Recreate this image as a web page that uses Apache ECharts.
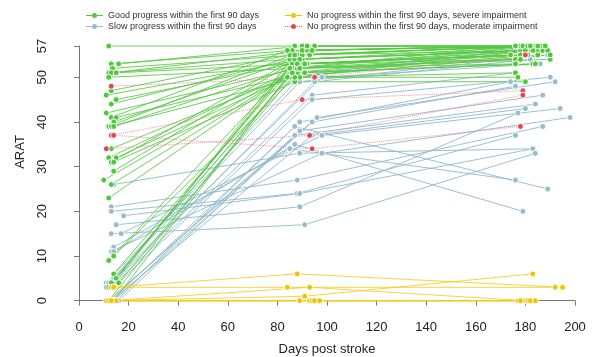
<!DOCTYPE html>
<html><head><meta charset="utf-8">
<script src="https://cdn.jsdelivr.net/npm/echarts@6/dist/echarts.min.js"></script>
<style>html,body{margin:0;padding:0;background:#fff}#c{width:594px;height:357px}</style>
</head><body><div id="c"></div>
<script>
// ---- data (days post stroke, ARAT) per patient: three assessments ----
const seriesNames = ['Good progress within the first 90 days','Slow progress within the first 90 days','No progress within the first 90 days, severe impairment','No progress within the first 90 days, moderate impairment'];

const goodDays = [[12,87,180],[13,86,181],[16,90,183],[13.5,88,185],[12,85,178],[13,92,186],[15,89,179],[12,87,176],[13,85,188],[11,90,182],[15,86,174],[13,93,184],[11,88,190],[13,84,178],[15,91,183],[14,87,187],[12,95,180],[13,89,176],[14,86,181],[13,88,185],[12,92,189],[15,85,177],[13,90,182],[14,87,180],[14,94,179],[10,88,186],[13,86,184],[12,91,178],[14,87,183],[12,85,176],[14,89,188],[13,86,180],[12,90,185],[14,88,178],[15,92,181],[12,84,190],[13,87,182],[16,89,176]];
const goodArat = [[57,57,57],[53,56,57],[53,57,57],[52,55,56],[51,54,56],[51,56,57],[51,53,55],[50,52,54],[47,55,57],[46,54,56],[45,53,55],[44,55,57],[42,52,54],[41,56,57],[41,51,53],[40,54,56],[39,57,57],[39,50,51],[39,52,55],[34,51,55],[32,53,56],[32,50,50],[31,55,57],[31,49,49],[29,56,57],[27,52,57],[26,51,53],[23,53,55],[10,50,56],[9,52,57],[6,54,57],[4,51,56],[3,56,57],[0,53,54],[5,57,57],[0,50,55],[3,55,57],[4,52,53]];

const slowDays = [[14,89,183],[13,88,187],[13,88,176],[18,89,183],[15,89,177],[13,91,184],[17,98,194],[14,85,176],[13,98,198],[14,87,179],[14,85,178],[11,89,186],[12,89,189],[14,95,182],[11,98,186],[13,94,176],[14,94,190],[12,96,192],[13,89,174],[14,94,176],[15,87,189],[16,89,187],[12,87,184],[13,94,180]];
const slowArat = [[26,33,34],[21,27,39],[20,24,37],[19,24,34],[17,21,42],[15,17,33],[15,37,43],[12,34,27],[11,33,41],[11,35,20],[5,50,57],[4,50,57],[4,49,55],[4,49,54],[3,50,53],[3,46,51],[3,45,50],[0,41,49],[0,40,49],[0,40,48],[0,39,25],[0,38,46],[0,37,44],[0,37,43]];

const severeDays = [[13,88,195],[14,84,192],[12,93,180],[11,91,183],[13,89,177],[14,93,181],[12,94,182],[15,95,178],[13,97,184]];
const severeArat = [[3,6,3],[3,3,3],[0,3,0],[0,1,6],[0,0,0],[0,0,0],[0,0,0],[0,0,0],[0,0,0]];

const moderateDays = [[13,95,180],[13,90,179],[14,94,178],[11,93,179]];
const moderateArat = [[48,50,55],[37,45,47],[37,34,39],[34,37,46]];

const xTicks = [0,20,40,60,80,100,120,140,160,180,200];
const yTicks = [0,10,20,30,40,50,57];

// ---- styles ----
const groups = [
  {name: seriesNames[1], days: slowDays, arat: slowArat, color: '#97bccb', line: 'rgba(145,185,202,0.9)', type: 'solid'},
  {name: seriesNames[0], days: goodDays, arat: goodArat, color: '#4fc83c', line: 'rgba(85,200,65,0.85)', type: 'solid'},
  {name: seriesNames[3], days: moderateDays, arat: moderateArat, color: '#e2455c', line: 'rgba(235,120,140,0.8)', type: 'dotted'},
  {name: seriesNames[2], days: severeDays, arat: severeArat, color: '#f3c300', line: 'rgba(245,200,20,0.8)', type: 'solid'}
];
const styleOf = {};
groups.forEach(g => { styleOf[g.name] = g; });

const series = [];
groups.forEach(g => {
  g.days.forEach((d, i) => {
    series.push({
      type: 'line', name: g.name,
      data: d.map((x, j) => [x, g.arat[i][j]]),
      symbol: 'circle', symbolSize: 6, showSymbol: true,
      itemStyle: {color: g.color, borderColor: '#fff', borderWidth: 1},
      lineStyle: {color: g.line, width: 1, type: g.type},
      clip: false, silent: true, animation: false
    });
  });
});

const solidIcon = 'path://M0,2h6.2v1h-6.2z M10.8,2h6.2v1h-6.2z M6,2.5a2.5,2.5 0 1,0 5,0a2.5,2.5 0 1,0 -5,0z';
const dottedIcon = 'path://M0,2h1v1h-1z M2.2,2h1v1h-1z M4.4,2h1v1h-1z M11.6,2h1v1h-1z M13.8,2h1v1h-1z M16,2h1v1h-1z M6,2.5a2.5,2.5 0 1,0 5,0a2.5,2.5 0 1,0 -5,0z';
function legendItem(name) {
  const g = styleOf[name];
  return {name: name, icon: g.type === 'dotted' ? dottedIcon : solidIcon, itemStyle: {color: g.color, borderWidth: 0}};
}
const legendText = {fontFamily: 'Liberation Sans, Arial, sans-serif', fontSize: 9, color: '#333'};

const chart = echarts.init(document.getElementById('c'), null, {renderer: 'canvas'});
const axisFont = {fontFamily: 'Liberation Sans, Arial, sans-serif', fontSize: 13, color: '#222'};
chart.setOption({
  animation: false,
  backgroundColor: '#fff',
  grid: {left: 79, right: 19, top: 46, bottom: 56.3, containLabel: false, outerBoundsMode: 'none'},
  legend: [
    {data: [legendItem(seriesNames[0]), legendItem(seriesNames[1])], orient: 'vertical', left: 81, top: 6, itemWidth: 17, itemHeight: 5, itemGap: 2,
     textStyle: legendText, selectedMode: false},
    {data: [legendItem(seriesNames[2]), legendItem(seriesNames[3])], orient: 'vertical', left: 280, top: 6, itemWidth: 17, itemHeight: 5, itemGap: 2,
     textStyle: legendText, selectedMode: false}
  ],
  xAxis: {
    type: 'value', min: 0, max: 200, interval: 20, offset: 12,
    name: 'Days post stroke', nameLocation: 'middle', nameGap: 30,
    nameTextStyle: axisFont,
    axisLine: {show: true, lineStyle: {color: '#777', width: 1}},
    axisTick: {show: true, length: 5, lineStyle: {color: '#777'}, customValues: xTicks},
    axisLabel: Object.assign({margin: 8, customValues: xTicks}, axisFont),
    splitLine: {show: false}
  },
  yAxis: {
    type: 'value', min: 0, max: 57, offset: 20,
    axisLine: {show: true, lineStyle: {color: '#777', width: 1}},
    axisTick: {show: true, length: 5, lineStyle: {color: '#777'}, customValues: yTicks},
    axisLabel: Object.assign({margin: 10, rotate: 90, customValues: yTicks}, axisFont),
    splitLine: {show: false}
  },
  graphic: [{
    type: 'text', x: 20, y: 152, rotation: Math.PI / 2,
    style: {text: 'ARAT', fontFamily: 'Liberation Sans, Arial, sans-serif', fontSize: 13, fill: '#222', align: 'center', verticalAlign: 'middle'}
  }],
  series: series
});
</script></body></html>
